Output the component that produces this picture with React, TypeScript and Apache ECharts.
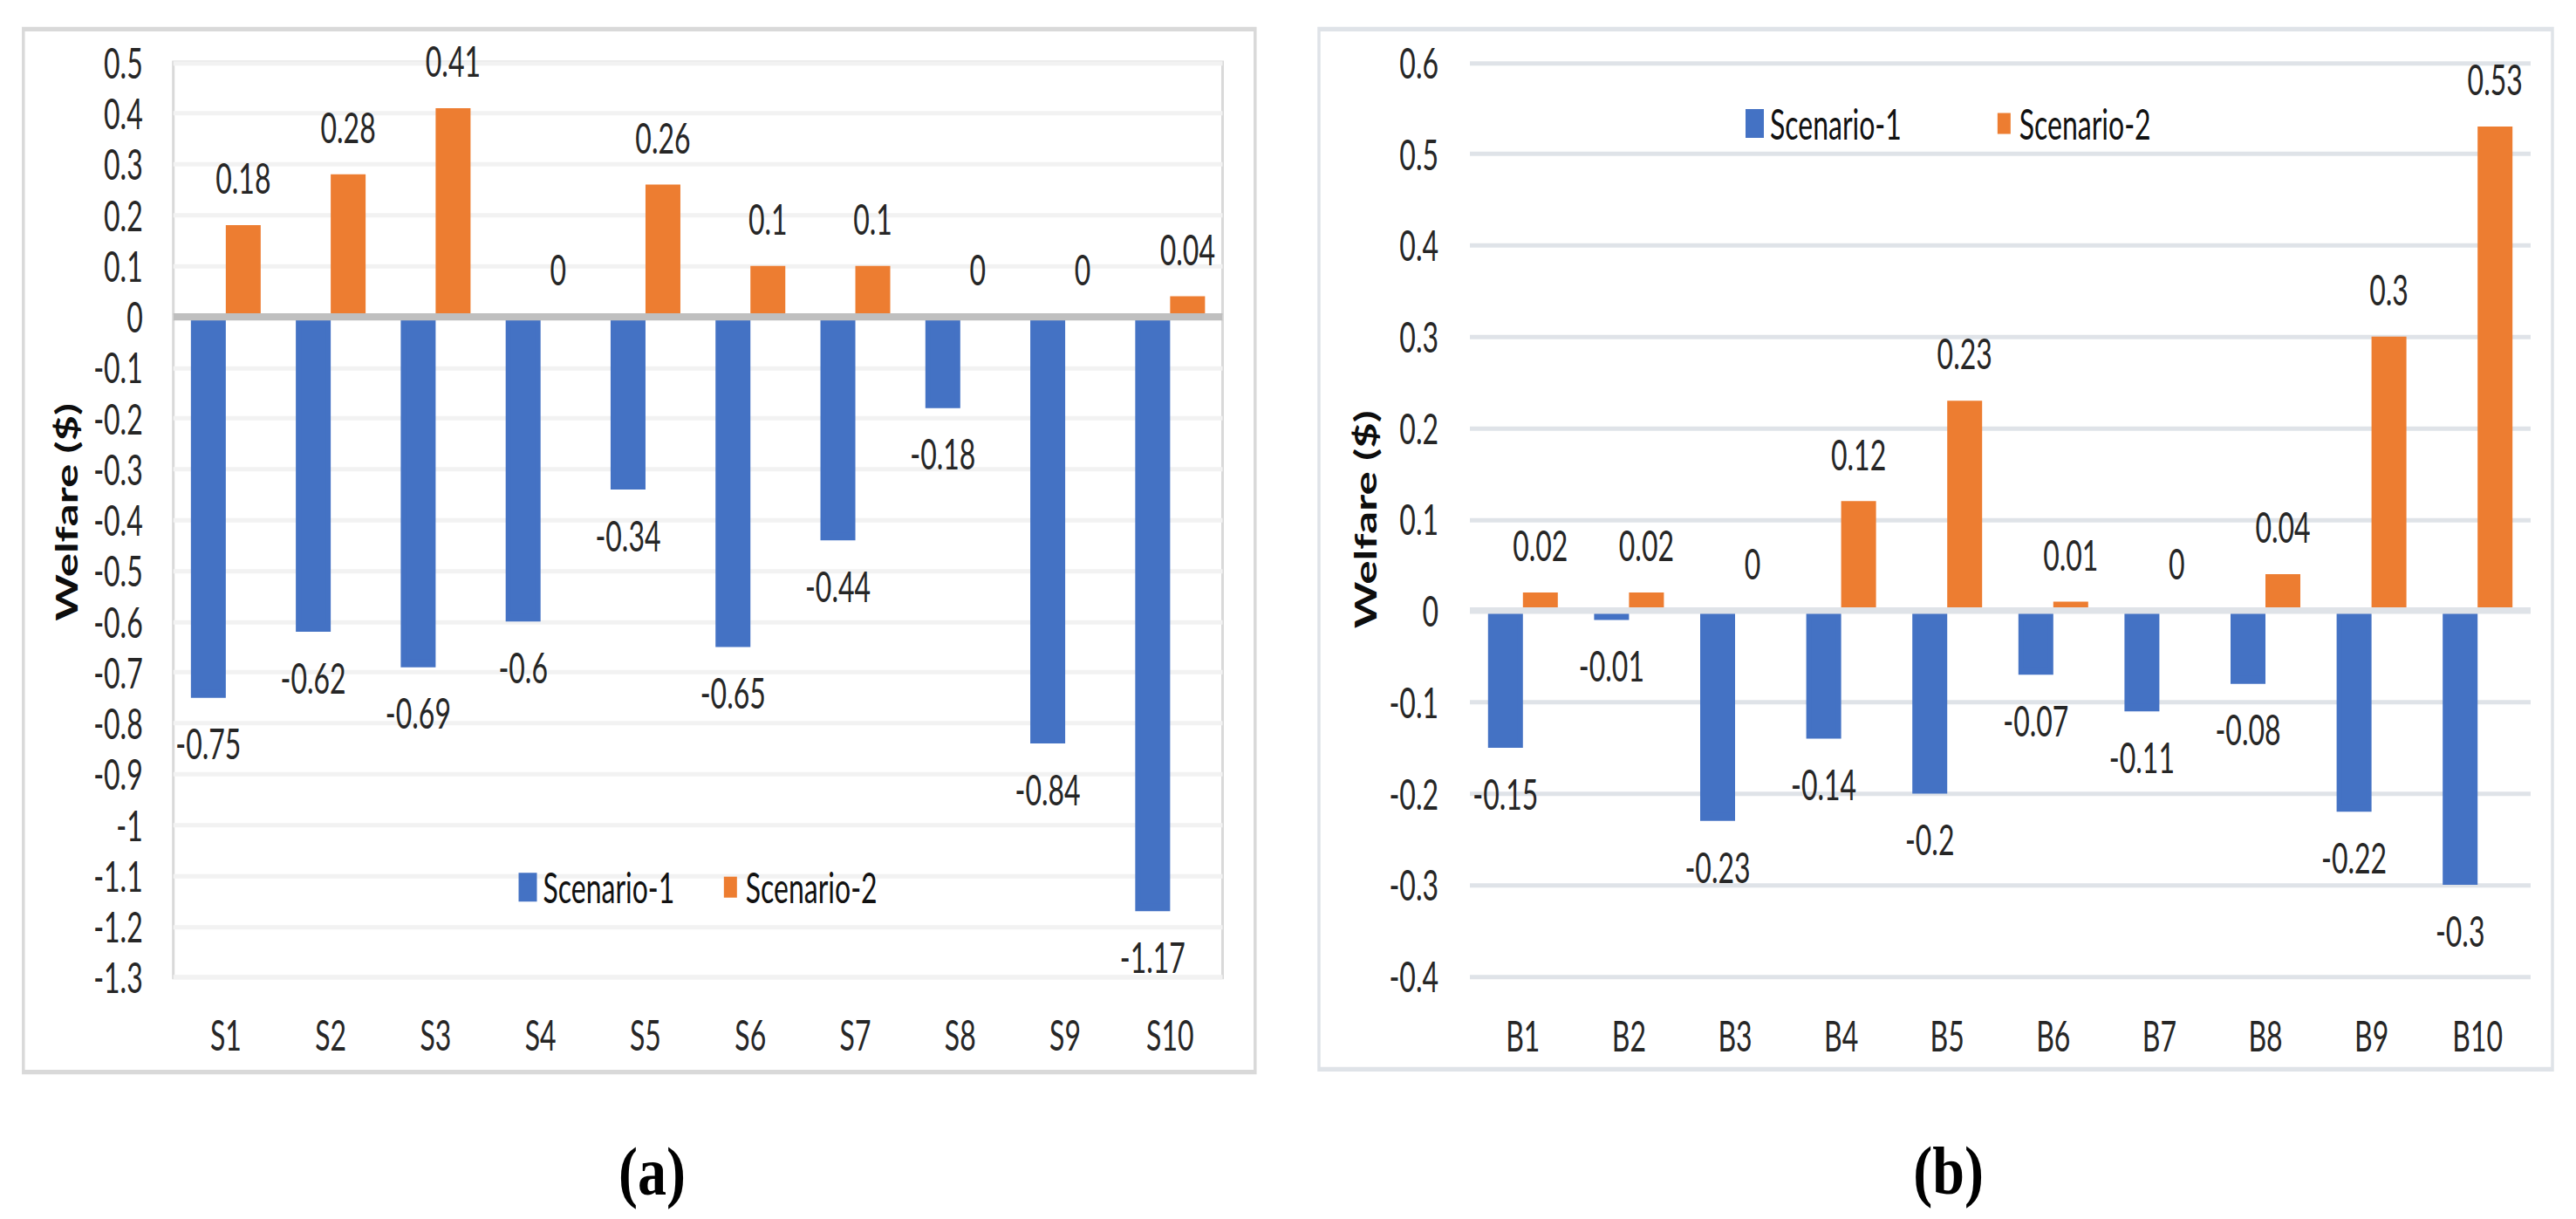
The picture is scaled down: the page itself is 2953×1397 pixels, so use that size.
import React, { useEffect, useRef } from 'react';
import * as echarts from 'echarts';

// ---------- data ----------
const S_CATEGORIES = ['S1', 'S2', 'S3', 'S4', 'S5', 'S6', 'S7', 'S8', 'S9', 'S10'];
const S_SCENARIO1 = [-0.75, -0.62, -0.69, -0.6, -0.34, -0.65, -0.44, -0.18, -0.84, -1.17];
const S_SCENARIO2 = [0.18, 0.28, 0.41, 0, 0.26, 0.1, 0.1, 0, 0, 0.04];

const B_CATEGORIES = ['B1', 'B2', 'B3', 'B4', 'B5', 'B6', 'B7', 'B8', 'B9', 'B10'];
const B_SCENARIO1 = [-0.15, -0.01, -0.23, -0.14, -0.2, -0.07, -0.11, -0.08, -0.22, -0.3];
const B_SCENARIO2 = [0.02, 0.02, 0, 0.12, 0.23, 0.01, 0, 0.04, 0.3, 0.53];

const SERIES_NAMES = ['Scenario-1', 'Scenario-2'];
const AXIS_A = { min: -1.3, max: 0.5, interval: 0.1 };
const AXIS_B = { min: -0.4, max: 0.6, interval: 0.1 };
const Y_TITLE = 'Welfare ($)';
const CAPTIONS = ['(a)', '(b)'];

// ---------- layout / style ----------
const W = 2953;
const H = 1397;
const STRETCH = 1.5;
const CH = H / STRETCH;
const Y = (v: number) => v / STRETCH;

const BLUE = '#4472c4';
const ORANGE = '#ed7d31';
const FONT = 'Lato, "Liberation Sans", sans-serif';
const TEXT = '#262626';

const labelBase = {
  show: true,
  fontFamily: FONT,
  fontSize: 32,
  lineHeight: 32,
  color: TEXT,
};

function barData(vals: number[], negDist: number, posDist: number) {
  return vals.map((v) => ({
    value: v,
    label: { position: v < 0 ? 'bottom' : 'top', distance: v < 0 ? negDist : posDist },
  }));
}

function buildOption() {
  const gridA = { left: 198.7, top: Y(71.7), width: 1202.8, height: Y(1120) - Y(71.7) };
  const gridB = { left: 1685, top: Y(71.7), width: 1216, height: Y(1118.8) - Y(71.7) };

  const catAxis = (gridIndex: number, data: string[], margin: number) => ({
    type: 'category',
    gridIndex,
    data,
    axisLine: { show: false },
    axisTick: { show: false },
    splitLine: { show: false },
    axisLabel: {
      interval: 0,
      margin,
      fontFamily: FONT,
      fontSize: 32,
      lineHeight: 32,
      color: TEXT,
    },
  });

  const valAxis = (
    gridIndex: number,
    ax: any,
    margin: number,
    gridColor: string,
    nameGap: number,
    namePad: number[],
  ) => ({
    type: 'value',
    gridIndex,
    min: ax.min,
    max: ax.max,
    interval: ax.interval,
    name: Y_TITLE,
    nameLocation: 'middle',
    nameRotate: 90,
    nameGap,
    nameTextStyle: {
      fontFamily: FONT,
      fontWeight: 'bold',
      fontSize: 34,
      lineHeight: 34,
      color: '#0d0d0d',
      padding: namePad,
    },
    axisLine: { show: false },
    axisTick: { show: false },
    axisLabel: {
      margin,
      fontFamily: FONT,
      fontSize: 32,
      lineHeight: 32,
      color: TEXT,
    },
    splitLine: { show: true, lineStyle: { color: gridColor, width: 3.3 } },
  });

  const zeroLine = (color: string, width: number) => ({
    silent: true,
    symbol: ['none', 'none'],
    label: { show: false },
    lineStyle: { color, width, type: 'solid' },
    data: [{ yAxis: 0 }],
    z: 5,
  });

  const legend = (left: number, top: number, itemGap: number) => ({
    left,
    top,
    padding: 0,
    orient: 'horizontal',
    icon: 'rect',
    itemWidth: 15,
    itemHeight: 16,
    itemGap,
    textStyle: {
      fontFamily: FONT,
      fontSize: 32,
      lineHeight: 32,
      color: '#111111',
      padding: [0, 0, 0, 5],
    },
    data: [
      { name: SERIES_NAMES[0], itemStyle: { color: BLUE, borderColor: BLUE, borderWidth: 6 } },
      { name: SERIES_NAMES[1], itemStyle: { color: ORANGE, borderWidth: 0 } },
    ],
  });

  const blueSeries = (axisIndex: number, vals: number[], zero: any) => ({
    name: SERIES_NAMES[0],
    type: 'bar',
    xAxisIndex: axisIndex,
    yAxisIndex: axisIndex,
    data: barData(vals, 19, 20),
    barWidth: 40,
    barGap: '0%',
    itemStyle: { color: BLUE, borderColor: BLUE, borderWidth: 6 },
    label: labelBase,
    markLine: zero,
  });

  const orangeSeries = (axisIndex: number, vals: number[]) => ({
    name: SERIES_NAMES[1],
    type: 'bar',
    xAxisIndex: axisIndex,
    yAxisIndex: axisIndex,
    data: barData(vals, 19, 20),
    barWidth: 40,
    barGap: '0%',
    itemStyle: { color: ORANGE },
    label: labelBase,
  });

  const caption = (x: number, y: number, text: string) => ({
    type: 'text',
    x,
    y,
    scaleY: 0.78,
    silent: true,
    style: {
      text,
      fontFamily: '"Liberation Serif"',
      fontWeight: 'bold',
      fontSize: 66,
      fill: '#000000',
      align: 'center',
      verticalAlign: 'middle',
    },
  });

  return {
    animation: false,
    backgroundColor: '#ffffff',
    grid: [
      { ...gridA, show: true, borderColor: '#d9d9d9', borderWidth: 3, backgroundColor: 'transparent', containLabel: false },
      { ...gridB, show: false, containLabel: false },
    ],
    legend: [legend(594.5, Y(1016.7) - 16, 56.5), legend(2001, Y(141.5) - 16, 110)],
    xAxis: [catAxis(0, S_CATEGORIES, 28), catAxis(1, B_CATEGORIES, 29)],
    yAxis: [
      valAxis(0, AXIS_A, 35, '#f2f2f2', 106, [0, 0, 0, 12]),
      valAxis(1, AXIS_B, 36, '#dfe3e8', 103, [0, 0, 0, 0]),
    ],
    series: [
      blueSeries(0, S_SCENARIO1, zeroLine('#bfbfbf', 5.5)),
      orangeSeries(0, S_SCENARIO2),
      blueSeries(1, B_SCENARIO1, zeroLine('#dfe3e8', 5)),
      orangeSeries(1, B_SCENARIO2),
    ],
    graphic: [
      {
        type: 'rect',
        silent: true,
        z: -1,
        shape: { x: 26.8, y: Y(33.3), width: 1412, height: Y(1228.6) - Y(33.3) },
        style: { fill: 'none', stroke: '#d9d9d9', lineWidth: 3.5 },
      },
      {
        type: 'rect',
        silent: true,
        z: -1,
        shape: { x: 1512, y: Y(33.3), width: 1414, height: Y(1225.4) - Y(33.3) },
        style: { fill: 'none', stroke: '#dfe3e8', lineWidth: 3.5 },
      },
      caption(747.5, Y(1343), CAPTIONS[0]),
      caption(2233.6, Y(1342), CAPTIONS[1]),
    ],
  };
}

export default function App() {
  const ref = useRef<HTMLDivElement>(null);
  useEffect(() => {
    const el = ref.current;
    if (!el) return;
    const chart = echarts.init(el, null, { renderer: 'svg', width: W, height: CH });
    chart.setOption(buildOption() as any);
    return () => {
      chart.dispose();
    };
  }, []);
  return (
    <div
      style={{
        position: 'absolute',
        left: 0,
        top: 0,
        width: W,
        height: H,
        overflow: 'hidden',
        background: '#ffffff',
      }}
    >
      <div
        ref={ref}
        style={{
          width: W,
          height: CH,
          transform: `scaleY(${STRETCH})`,
          transformOrigin: '0 0',
        }}
      />
    </div>
  );
}
